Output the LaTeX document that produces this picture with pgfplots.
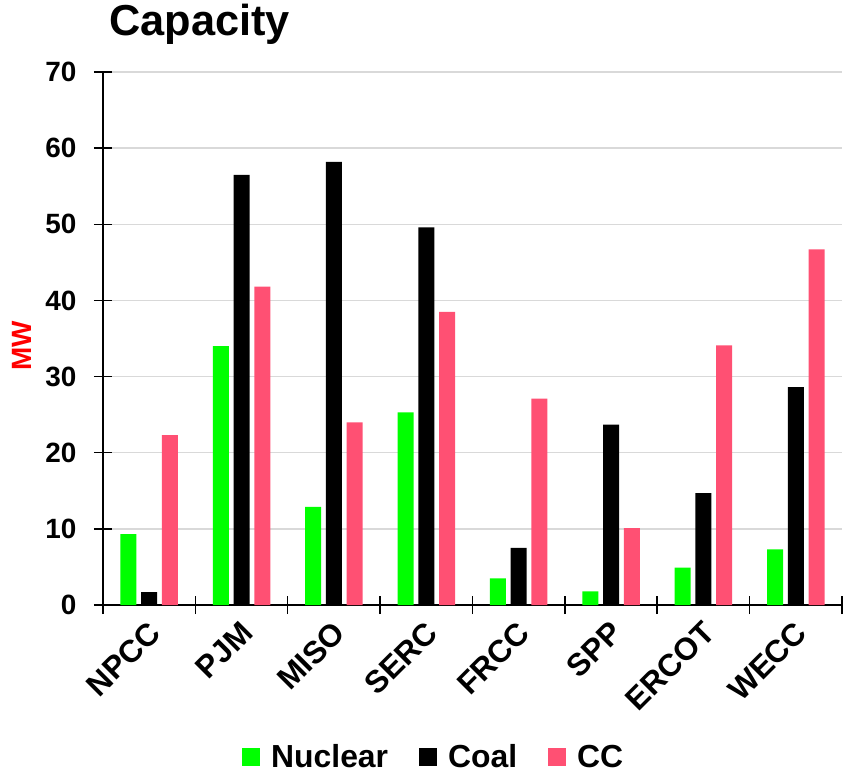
\documentclass[border=0pt]{standalone}
\usepackage{fontspec}
\setmainfont{Liberation Sans}
\usepackage{pgfplots}
\pgfplotsset{compat=1.18}

\definecolor{nuc}{RGB}{0,255,0}
\definecolor{ccpink}{RGB}{255,80,115}
\definecolor{gridgray}{RGB}{217,217,217}

\begin{document}
\begin{tikzpicture}
\useasboundingbox (-103bp,-173bp) rectangle (743bp,605bp);
\begin{axis}[
  scale only axis, width=739bp, height=533bp,
  ybar=4.7bp, bar width=16bp,
  xmin=-0.5, xmax=7.5, ymin=0, ymax=70,
  axis lines*=left,
  axis line style={line width=2bp, black},
  /pgf/number format/assume math mode=true,
  % region boundaries carry the tick marks, region names sit between them
  xtick={-0.5,0.5,...,7.5}, xticklabels={},
  extra x ticks={0,1,2,3,4,5,6,7},
  extra x tick labels={NPCC,PJM,MISO,SERC,FRCC,SPP,ERCOT,WECC},
  extra x tick style={major tick length=0pt,
    tick label style={xshift=8bp, yshift=-20bp, rotate=45, anchor=east,
      font=\fontsize{31.5}{33}\selectfont\bfseries}},
  ytick={0,10,...,70},
  ymajorgrids, major grid style={gridgray, line width=1.5bp},
  tick align=center, major tick length=18bp,
  tick style={black, line width=1.5bp},
  yticklabel style={xshift=-14bp, font=\fontsize{28}{30}\selectfont\bfseries},
  ylabel={MW},
  ylabel style={at={([xshift=-81bp,yshift=-7.5bp]rel axis cs:0,0.5)},
    anchor=center, rotate=0, red,
    font=\fontsize{28}{30}\selectfont\bfseries},
  title={Capacity},
  title style={at={([xshift=6bp,yshift=31bp]rel axis cs:0,1)},
    anchor=base west, inner sep=0pt,
    font=\fontsize{43.5}{46}\selectfont\bfseries},
  legend style={at={(rel axis cs:0.4475,-0.285)}, anchor=center,
    draw=none, legend columns=-1,
    font=\fontsize{32}{34}\selectfont\bfseries,
    /tikz/every odd column/.append style={column sep=9bp},
    /tikz/every even column/.append style={column sep=29bp}},
  legend image code/.code={\fill[#1] (0bp,-9bp) rectangle (18bp,9bp);},
]
% Nuclear
\addplot[fill=nuc, draw=none] coordinates
  {(0,9.3) (1,34.0) (2,12.9) (3,25.3) (4,3.5) (5,1.8) (6,4.9) (7,7.3)};
% Coal
\addplot[fill=black, draw=none] coordinates
  {(0,1.7) (1,56.5) (2,58.2) (3,49.6) (4,7.5) (5,23.7) (6,14.7) (7,28.6)};
% Combined cycle
\addplot[fill=ccpink, draw=none] coordinates
  {(0,22.3) (1,41.8) (2,24.0) (3,38.5) (4,27.1) (5,10.1) (6,34.1) (7,46.7)};
\legend{Nuclear,Coal,CC}
\end{axis}
\end{tikzpicture}
\end{document}
